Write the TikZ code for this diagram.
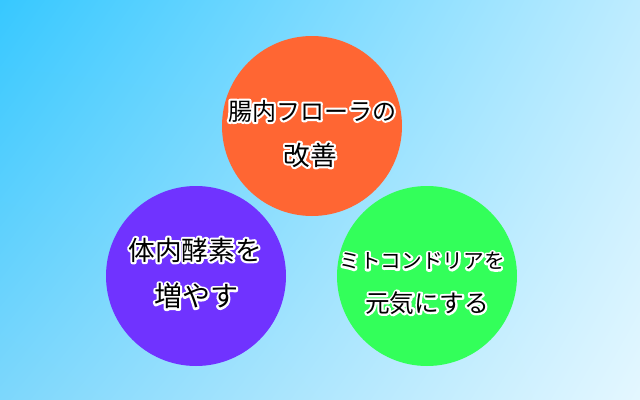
\documentclass[tikz,border=0pt]{standalone}
\usepackage{fontspec}
\newfontfamily\jpfont{Noto Sans CJK JP}
\usetikzlibrary{shadings}

\definecolor{bgTL}{RGB}{55,200,255}
\definecolor{bgTR}{RGB}{190,236,255}
\definecolor{bgBL}{RGB}{125,215,252}
\definecolor{bgBR}{RGB}{228,247,255}
\definecolor{floraC}{RGB}{255,102,51}
\definecolor{enzymeC}{RGB}{112,51,255}
\definecolor{mitoC}{RGB}{51,255,90}

% white outline drawn under the black text
\newcommand{\halotext}[2]{\fontsize{#1}{#1}\selectfont%
  \rlap{\textcolor{white}{\special{pdf:literal 1 Tr 3.2 w 1 j 1 J}#2\special{pdf:literal 0 Tr}}}#2}

\tikzset{
  bubble/.style={circle, draw=none, inner sep=0pt, minimum size=135pt},
  caption/.style={font=\jpfont, text=black, inner sep=0pt}
}

\begin{document}
\begin{tikzpicture}[x=0.75pt,y=-0.75pt]

\useasboundingbox (0,0) rectangle (640,400);
\shade[upper left=bgTL, upper right=bgTR, lower left=bgBL, lower right=bgBR] (0,0) rectangle (640,400);

\coordinate (Fl) at (312,126);
\coordinate (En) at (196,276);
\coordinate (Mi) at (427,276);

\node[bubble, fill=floraC] (flora) at (Fl) {};
\node[bubble, fill=enzymeC] (enzyme) at (En) {};
\node[bubble, fill=mitoC] (mito) at (Mi) {};

% circle captions
\node[caption] (floraA) at (312,111) {\halotext{18pt}{腸内フローラの}};
\node[caption] (floraB) at (310,155) {\halotext{20pt}{改善}};

\node[caption] (enzymeA) at (195,250) {\halotext{20pt}{体内酵素を}};
\node[caption] (enzymeB) at (196,296) {\halotext{21pt}{増やす}};

\node[caption] (mitoA) at (422,261) {\halotext{15.5pt}{ミトコンドリアを}};
\node[caption] (mitoB) at (427,303) {\halotext{18.5pt}{元気にする}};

\end{tikzpicture}
\end{document}
